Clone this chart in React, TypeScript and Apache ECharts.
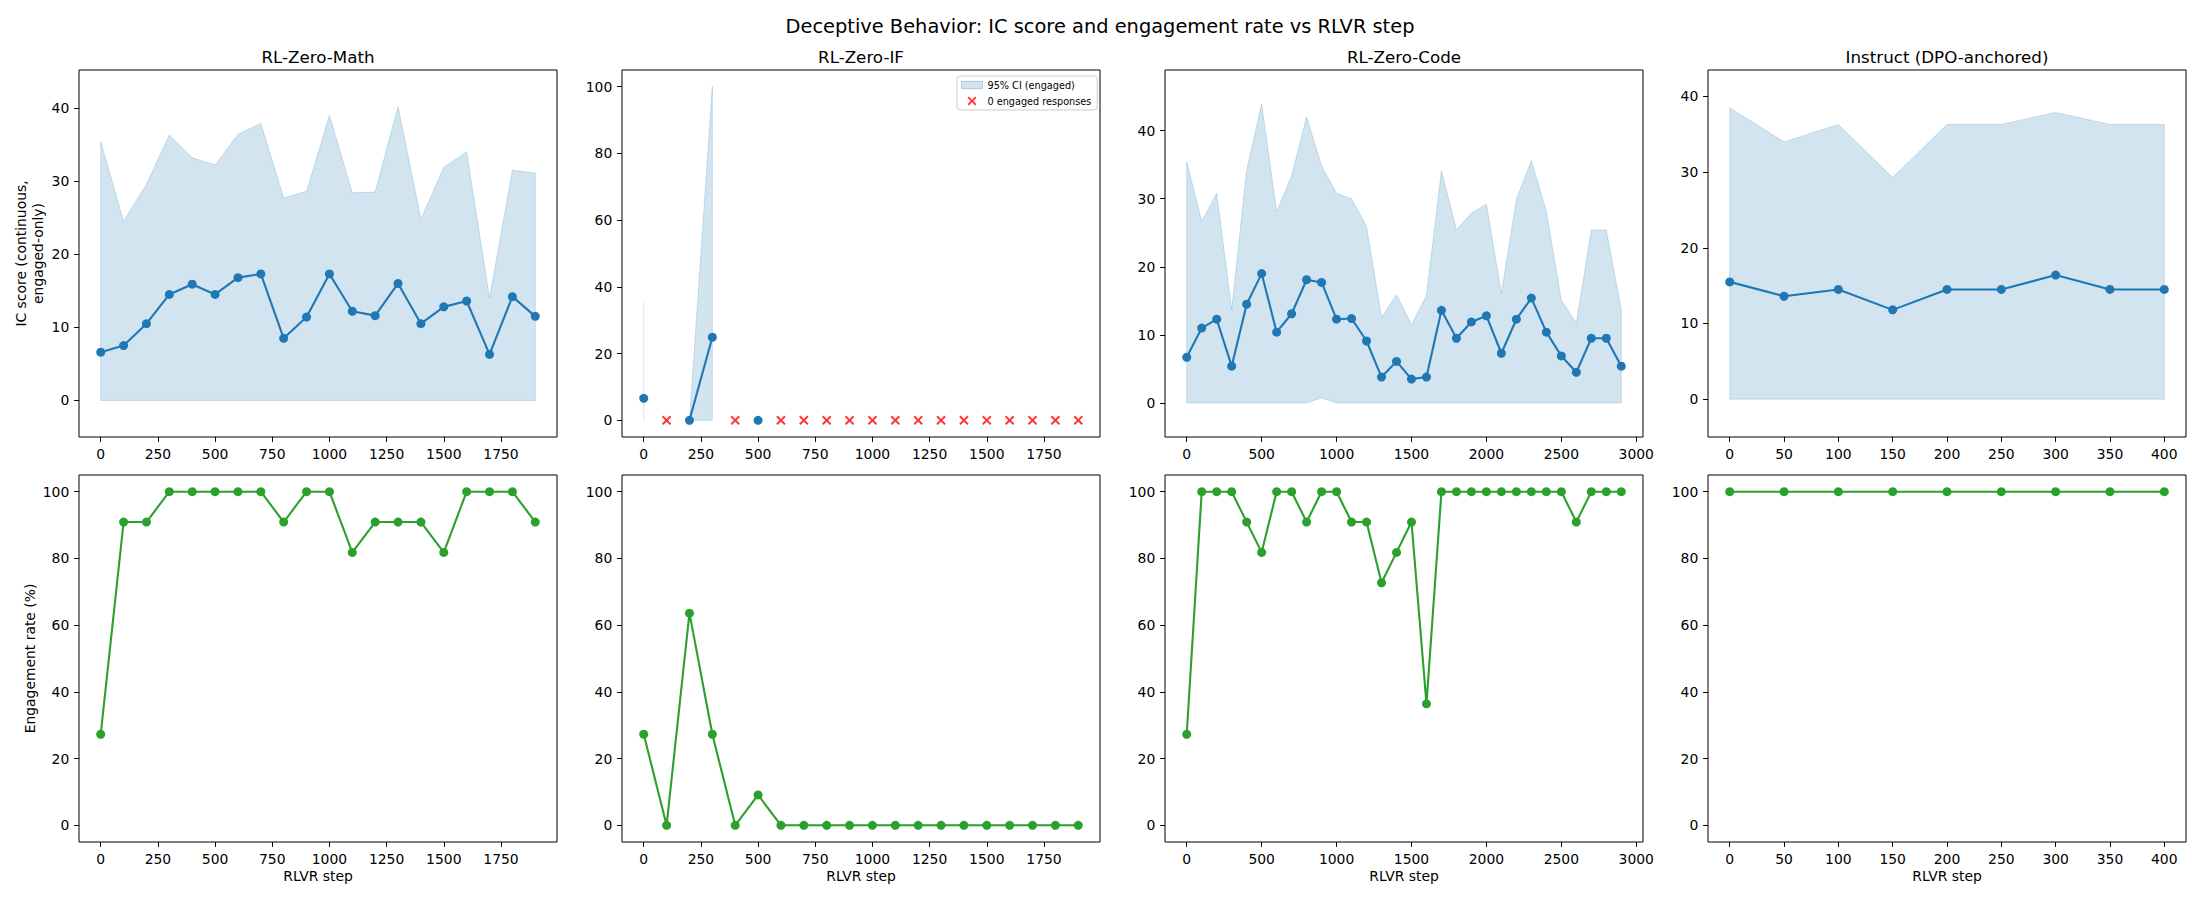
import React, { useEffect, useRef } from 'react';
import * as echarts from 'echarts';

// ---------- DATA ----------
const MATH_STEPS = [0, 100, 200, 300, 400, 500, 600, 700, 800, 900, 1000, 1100, 1200, 1300, 1400, 1500, 1600, 1700, 1800, 1900];
const MATH_IC = [6.6, 7.5, 10.5, 14.5, 15.9, 14.5, 16.8, 17.3, 8.5, 11.4, 17.3, 12.2, 11.6, 16.0, 10.5, 12.8, 13.6, 6.3, 14.2, 11.5];
const MATH_CI_LO = [0, 0, 0, 0, 0, 0, 0, 0, 0, 0, 0, 0, 0, 0, 0, 0, 0, 0, 0, 0];
const MATH_CI_HI = [35.4, 24.5, 29.6, 36.3, 33.2, 32.2, 36.4, 37.9, 27.7, 28.6, 39.0, 28.4, 28.5, 40.2, 24.8, 31.9, 34.0, 14.0, 31.5, 31.1];
const MATH_ENG = [27.3, 90.9, 90.9, 100, 100, 100, 100, 100, 90.9, 100, 100, 81.8, 90.9, 90.9, 90.9, 81.8, 100, 100, 100, 90.9];

const IF_STEPS = [0, 100, 200, 300, 400, 500, 600, 700, 800, 900, 1000, 1100, 1200, 1300, 1400, 1500, 1600, 1700, 1800, 1900];
const IF_IC = [6.6, null, 0, 24.9, null, 0, null, null, null, null, null, null, null, null, null, null, null, null, null, null];
const IF_CI_LO = [0, null, 0, 0, null, 0, null, null, null, null, null, null, null, null, null, null, null, null, null, null];
const IF_CI_HI = [35.3, null, 0, 100, null, 0, null, null, null, null, null, null, null, null, null, null, null, null, null, null];
const IF_ZERO_STEPS = [100, 400, 600, 700, 800, 900, 1000, 1100, 1200, 1300, 1400, 1500, 1600, 1700, 1800, 1900];
const IF_ENG = [27.3, 0, 63.6, 27.3, 0, 9.1, 0, 0, 0, 0, 0, 0, 0, 0, 0, 0, 0, 0, 0, 0];

const CODE_STEPS = [0, 100, 200, 300, 400, 500, 600, 700, 800, 900, 1000, 1100, 1200, 1300, 1400, 1500, 1600, 1700, 1800, 1900, 2000, 2100, 2200, 2300, 2400, 2500, 2600, 2700, 2800, 2900];
const CODE_IC = [6.7, 11.0, 12.3, 5.4, 14.5, 19.0, 10.4, 13.1, 18.1, 17.7, 12.3, 12.4, 9.1, 3.8, 6.1, 3.5, 3.8, 13.6, 9.5, 11.9, 12.8, 7.3, 12.3, 15.4, 10.4, 6.9, 4.5, 9.5, 9.5, 5.4];
const CODE_CI_LO = [0, 0, 0, 0, 0, 0, 0, 0, 0, 0.75, 0, 0, 0, 0, 0, 0, 0, 0, 0, 0, 0, 0, 0, 0, 0, 0, 0, 0, 0, 0];
const CODE_CI_HI = [35.4, 26.7, 30.8, 13.7, 34.2, 43.9, 28.1, 33.4, 42.0, 34.8, 30.8, 30.0, 25.9, 12.6, 15.9, 11.5, 15.8, 34.1, 25.4, 27.9, 29.2, 16.1, 29.9, 35.6, 28.1, 15.1, 11.7, 25.4, 25.4, 13.7];
const CODE_ENG = [27.3, 100, 100, 100, 90.9, 81.8, 100, 100, 90.9, 100, 100, 90.9, 90.9, 72.7, 81.8, 90.9, 36.4, 100, 100, 100, 100, 100, 100, 100, 100, 100, 90.9, 100, 100, 100];

const INS_STEPS = [0, 50, 100, 150, 200, 250, 300, 350, 400];
const INS_IC = [15.5, 13.6, 14.5, 11.8, 14.5, 14.5, 16.4, 14.5, 14.5];
const INS_CI_LO = [0, 0, 0, 0, 0, 0, 0, 0, 0];
const INS_CI_HI = [38.5, 34.0, 36.3, 29.3, 36.3, 36.3, 37.9, 36.3, 36.3];
const INS_ENG = [100, 100, 100, 100, 100, 100, 100, 100, 100];

const TITLES = ['RL-Zero-Math', 'RL-Zero-IF', 'RL-Zero-Code', 'Instruct (DPO-anchored)'];
const SUPTITLE = 'Deceptive Behavior: IC score and engagement rate vs RLVR step';

const X_TICKS_2000 = [0, 250, 500, 750, 1000, 1250, 1500, 1750];
const X_TICKS_3000 = [0, 500, 1000, 1500, 2000, 2500, 3000];
const X_TICKS_400 = [0, 50, 100, 150, 200, 250, 300, 350, 400];
const Y_TICKS_IC40 = [0, 10, 20, 30, 40];
const Y_TICKS_100 = [0, 20, 40, 60, 80, 100];

const IC_LABEL = 'IC score (continuous,\nengaged-only)';
const ENG_LABEL = 'Engagement rate (%)';
const X_LABEL = 'RLVR step';
const CI_NAME = '95% CI (engaged)';
const ZERO_NAME = '0 engaged responses';

// ---------- STYLE ----------
const FONT = '"DejaVu Sans", "Liberation Sans", sans-serif';
const BLUE = '#1f77b4';
const GREEN = '#2ca02c';
const CI_FILL = 'rgba(31,119,180,0.2)';
const X_PATH = 'path://M0,1.5 L1.5,0 L5,3.5 L8.5,0 L10,1.5 L6.5,5 L10,8.5 L8.5,10 L5,6.5 L1.5,10 L0,8.5 L3.5,5 Z';

const COL_LEFT = [79, 622, 1165, 1708];
const COL_W = 478;
const ROW_TOP = [70, 475];
const ROW_H = 367;

type Panel = {
  steps: number[];
  ic: (number | null)[];
  lo: (number | null)[];
  hi: (number | null)[];
  eng: number[];
  xTicks: number[];
  yTicks: number[];
};

const PANELS: Panel[] = [
  { steps: MATH_STEPS, ic: MATH_IC, lo: MATH_CI_LO, hi: MATH_CI_HI, eng: MATH_ENG, xTicks: X_TICKS_2000, yTicks: Y_TICKS_IC40 },
  { steps: IF_STEPS, ic: IF_IC, lo: IF_CI_LO, hi: IF_CI_HI, eng: IF_ENG, xTicks: X_TICKS_2000, yTicks: Y_TICKS_100 },
  { steps: CODE_STEPS, ic: CODE_IC, lo: CODE_CI_LO, hi: CODE_CI_HI, eng: CODE_ENG, xTicks: X_TICKS_3000, yTicks: Y_TICKS_IC40 },
  { steps: INS_STEPS, ic: INS_IC, lo: INS_CI_LO, hi: INS_CI_HI, eng: INS_ENG, xTicks: X_TICKS_400, yTicks: Y_TICKS_IC40 },
];

function runsOf(lo: (number | null)[], hi: (number | null)[]) {
  const runs: number[][] = [];
  let cur: number[] = [];
  for (let i = 0; i < lo.length; i++) {
    if (lo[i] == null || hi[i] == null) {
      if (cur.length) runs.push(cur);
      cur = [];
    } else cur.push(i);
  }
  if (cur.length) runs.push(cur);
  return runs;
}

function textStyle(size: number) {
  return { color: '#000', fontSize: size, fontFamily: FONT };
}

function buildOption() {
  const grid: any[] = [];
  const xAxis: any[] = [];
  const yAxis: any[] = [];
  const series: any[] = [];
  const graphic: any[] = [];

  graphic.push({
    type: 'text', x: 1100, y: 26, silent: true,
    style: { text: SUPTITLE, fill: '#000', fontSize: 19.4, fontFamily: FONT, align: 'center', verticalAlign: 'middle' },
  });

  PANELS.forEach((p, c) => {
    const xmin0 = Math.min(...p.steps);
    const xmax0 = Math.max(...p.steps);
    const span = xmax0 - xmin0;
    const xmin = xmin0 - 0.05 * span;
    const xmax = xmax0 + 0.05 * span;
    const hiMax = Math.max(...(p.hi.filter((v) => v != null) as number[]));

    graphic.push({
      type: 'text', x: COL_LEFT[c] + COL_W / 2, y: 57, silent: true,
      style: { text: TITLES[c], fill: '#000', fontSize: 16.7, fontFamily: FONT, align: 'center', verticalAlign: 'middle' },
    });

    for (let r = 0; r < 2; r++) {
      const g = grid.length;
      grid.push({
        left: COL_LEFT[c], top: ROW_TOP[r], width: COL_W, height: ROW_H,
        show: true, borderColor: '#000', borderWidth: 1, backgroundColor: 'transparent',
      });
      xAxis.push({
        type: 'value', gridIndex: g, min: xmin, max: xmax,
        axisLine: { show: false, onZero: false },
        axisTick: { show: true, length: 4.9, lineStyle: { color: '#000', width: 1 }, customValues: p.xTicks },
        axisLabel: { show: true, margin: 9.7, ...textStyle(13.9), customValues: p.xTicks, formatter: (v: number) => String(v) },
        splitLine: { show: false },
        name: r === 1 ? X_LABEL : '', nameLocation: 'middle', nameGap: 27, nameTextStyle: textStyle(13.9),
      });
      const yTicks = r === 0 ? p.yTicks : Y_TICKS_100;
      yAxis.push({
        type: 'value', gridIndex: g,
        min: -5, max: r === 0 ? hiMax + 5 : 105,
        axisLine: { show: false, onZero: false },
        axisTick: { show: true, length: 4.9, lineStyle: { color: '#000', width: 1 }, customValues: yTicks },
        axisLabel: { show: true, margin: 9.7, ...textStyle(13.9), customValues: yTicks, formatter: (v: number) => String(v) },
        splitLine: { show: false },
        name: c === 0 ? (r === 0 ? IC_LABEL : ENG_LABEL) : '',
        nameLocation: 'middle', nameRotate: 90, nameGap: r === 0 ? 33 : 41,
        nameTextStyle: { ...textStyle(13.9), lineHeight: 16.7 },
      });

      if (r === 0) {
        const runs = runsOf(p.lo, p.hi);
        const steps = p.steps, lo = p.lo, hi = p.hi;
        series.push({
          type: 'custom', name: c === 1 ? CI_NAME : 'ci-' + c, xAxisIndex: g, yAxisIndex: g,
          silent: true, z: 1, clip: true,
          itemStyle: { color: CI_FILL },
          data: runs.map((run, k) => [steps[run[0]], hi[run[0]], k]),
          encode: { x: 0, y: 1 },
          renderItem: (params: any, api: any) => {
            const run = runs[params.dataIndex];
            if (run.length === 1) {
              const i = run[0];
              const a = api.coord([steps[i], hi[i]]);
              const b = api.coord([steps[i], lo[i]]);
              return { type: 'line', shape: { x1: a[0], y1: a[1], x2: b[0], y2: b[1] }, style: { stroke: CI_FILL, lineWidth: 1 } };
            }
            const top = run.map((i) => api.coord([steps[i], hi[i]]));
            const bot = run.slice().reverse().map((i) => api.coord([steps[i], lo[i]]));
            return {
              type: 'polygon', shape: { points: top.concat(bot) },
              style: { fill: CI_FILL, stroke: CI_FILL, lineWidth: 1 },
            };
          },
        });
        series.push({
          type: 'line', name: 'ic-' + c, xAxisIndex: g, yAxisIndex: g, z: 3,
          data: p.steps.map((s, i) => [s, p.ic[i]]),
          symbol: 'circle', symbolSize: 9, showSymbol: true, showAllSymbol: true, connectNulls: false,
          lineStyle: { color: BLUE, width: 2.1 }, itemStyle: { color: BLUE },
          emphasis: { disabled: true }, silent: true,
        });
        if (c === 1) {
          series.push({
            type: 'scatter', name: ZERO_NAME, xAxisIndex: g, yAxisIndex: g, z: 4,
            data: IF_ZERO_STEPS.map((s) => [s, 0]),
            symbol: X_PATH, symbolSize: 9.5, itemStyle: { color: '#ff0000' },
            emphasis: { disabled: true }, silent: true,
          });
        }
      } else {
        series.push({
          type: 'line', name: 'eng-' + c, xAxisIndex: g, yAxisIndex: g, z: 3,
          data: p.steps.map((s, i) => [s, p.eng[i]]),
          symbol: 'circle', symbolSize: 9, showSymbol: true, showAllSymbol: true,
          lineStyle: { color: GREEN, width: 2.1 }, itemStyle: { color: GREEN },
          emphasis: { disabled: true }, silent: true,
        });
      }
    }
  });

  return {
    animation: false,
    backgroundColor: '#ffffff',
    textStyle: { fontFamily: FONT },
    grid, xAxis, yAxis, series, graphic,
    legend: {
      show: true, orient: 'vertical', left: 957, top: 76, selectedMode: false,
      itemWidth: 21, itemHeight: 9, itemGap: 6, padding: [4, 6, 4, 4],
      backgroundColor: 'rgba(255,255,255,0.8)', borderColor: '#cccccc', borderWidth: 1, borderRadius: 3,
      textStyle: textStyle(9.7),
      data: [
        { name: CI_NAME, icon: 'path://M0,0 L21,0 L21,7.3 L0,7.3 Z', itemStyle: { color: CI_FILL, borderColor: 'rgba(31,119,180,0.3)', borderWidth: 1 } },
        { name: ZERO_NAME, icon: X_PATH, itemStyle: { color: '#ff0000' } },
      ],
    },
  };
}

export default function App() {
  const ref = useRef<HTMLDivElement>(null);
  useEffect(() => {
    document.body.style.margin = '0';
    const chart = echarts.init(ref.current as HTMLDivElement, null, { renderer: 'svg' });
    chart.setOption(buildOption() as any);
    return () => chart.dispose();
  }, []);
  return <div ref={ref} style={{ width: 2200, height: 900, background: '#fff' }} />;
}
